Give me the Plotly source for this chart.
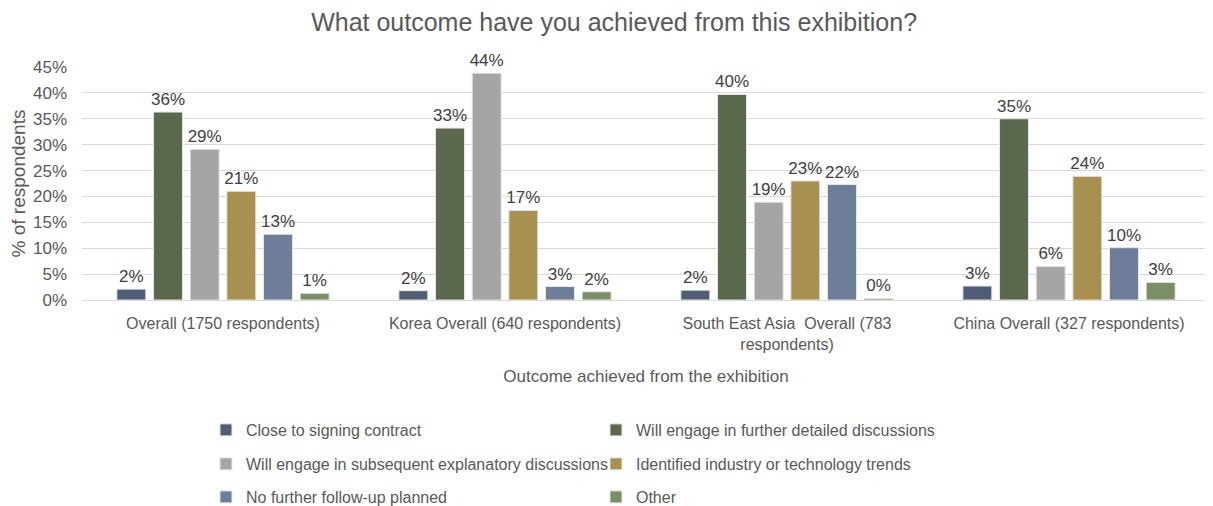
import plotly.graph_objects as go

categories = ["Overall (1750 respondents)", "Korea Overall (640 respondents)",
              "South East Asia  Overall (783<br>respondents)", "China Overall (327 respondents)"]
series_names = ["Close to signing contract", "Will engage in further detailed discussions",
                "Will engage in subsequent explanatory discussions", "Identified industry or technology trends",
                "No further follow-up planned", "Other"]
close_to_signing = [2.1, 1.8, 1.9, 2.7]
further_detailed = [36.3, 33.2, 39.7, 35.0]
subsequent_explanatory = [29.1, 43.8, 18.9, 6.5]
industry_trends = [21.0, 17.3, 23.0, 23.9]
no_follow_up = [12.7, 2.6, 22.3, 10.1]
other = [1.3, 1.6, 0.3, 3.4]
y_ticks = [0, 5, 10, 15, 20, 25, 30, 35, 40, 45]

series_values = [close_to_signing, further_detailed, subsequent_explanatory,
                 industry_trends, no_follow_up, other]
colors = ["#4F5D75", "#5A694D", "#A5A5A5", "#A89150", "#6E7E99", "#7A8F66"]
legend_ids = ["legend", "legend", "legend2", "legend2", "legend3", "legend3"]

FONT = "Liberation Sans, Arial, sans-serif"
W, H = 1205, 498

fig = go.Figure()
for name, vals, col, lg in zip(series_names, series_values, colors, legend_ids):
    fig.add_trace(go.Bar(
        x=categories, y=vals, name=name, legend=lg,
        marker=dict(color=col, line=dict(color="#E6E6E6", width=1)),
        text=[f"{round(v):.0f}%" for v in vals],
        textposition="outside", cliponaxis=False, constraintext="none",
        textfont=dict(size=17, color="#404040", family=FONT),
    ))

leg_common = dict(orientation="h", xref="container", x=0.1643, xanchor="left",
                  yref="container", yanchor="middle",
                  entrywidth=345, entrywidthmode="pixels",
                  font=dict(size=16, color="#595959", family=FONT),
                  itemwidth=30, traceorder="normal", bgcolor="rgba(0,0,0,0)")

fig.update_layout(
    width=W, height=H,
    margin=dict(l=74, r=3, t=59, b=206, autoexpand=False),
    paper_bgcolor="white", plot_bgcolor="white",
    font=dict(family=FONT, color="#595959", size=16),
    title=dict(text="What outcome have you achieved from this exhibition?",
               x=0.503, xanchor="center", xref="container", yref="container",
               y=0.972, yanchor="middle", automargin=False,
               font=dict(size=25, color="#595959", family=FONT)),
    barmode="group", bargap=0.22, bargroupgap=0.21,
    showlegend=True,
    legend=dict(**leg_common, y=1 - 422 / H),
    legend2=dict(**leg_common, y=1 - 456 / H),
    legend3=dict(**leg_common, y=1 - 489 / H),
)
fig.update_yaxes(range=[0, 45], tickvals=y_ticks, ticktext=[f"{t}%" for t in y_ticks],
                 showgrid=True, gridcolor="#D9D9D9", gridwidth=1, automargin=False,
                 zeroline=True, zerolinecolor="#D9D9D9", zerolinewidth=1,
                 tickfont=dict(size=17, color="#595959"), ticks="", ticklabelstandoff=14,
                 title=dict(text="% of respondents", font=dict(size=19, color="#595959"),
                            standoff=4))
fig.update_xaxes(showline=True, linecolor="#D9D9D9", ticks="", automargin=False,
                 tickfont=dict(size=16, color="#595959"), ticklabelstandoff=9,
                 title=dict(text="Outcome achieved from the exhibition",
                            font=dict(size=17, color="#595959"), standoff=18))

fig.write_html("out.html")
